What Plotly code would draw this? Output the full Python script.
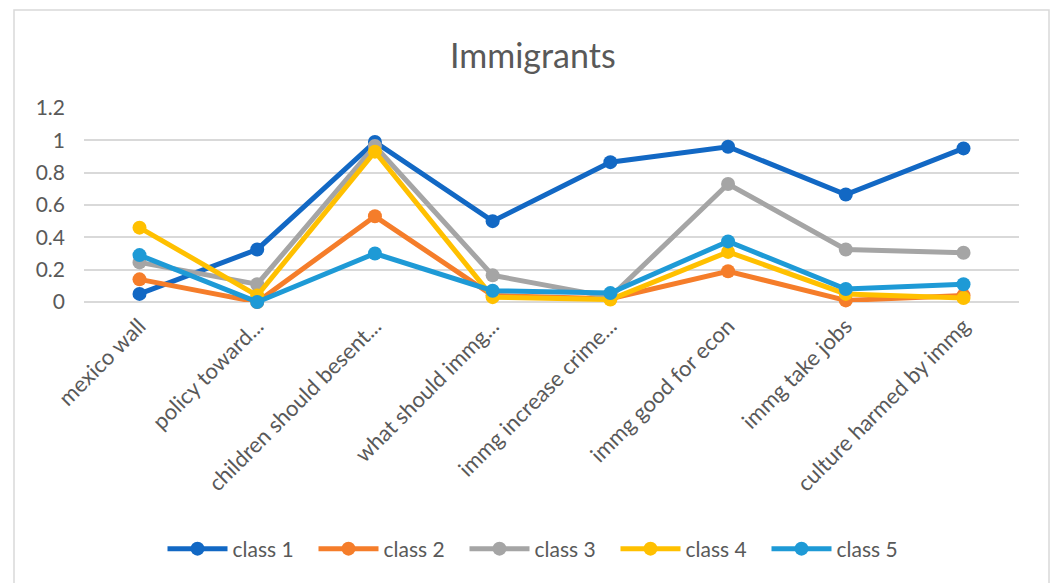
import plotly.graph_objects as go

categories = ["mexico wall", "policy toward...", "children should besent...",
              "what should immg...", "immg increase crime...", "immg good for econ",
              "immg take jobs", "culture harmed by immg"]

class_1 = [0.05, 0.325, 0.99, 0.50, 0.865, 0.96, 0.665, 0.95]
class_2 = [0.14, 0.00, 0.53, 0.04, 0.02, 0.19, 0.01, 0.04]
class_3 = [0.245, 0.11, 0.965, 0.165, 0.03, 0.73, 0.325, 0.305]
class_4 = [0.46, 0.04, 0.93, 0.03, 0.015, 0.31, 0.05, 0.025]
class_5 = [0.29, 0.00, 0.30, 0.07, 0.055, 0.375, 0.08, 0.11]

series_names = ["class 1", "class 2", "class 3", "class 4", "class 5"]
series_values = [class_1, class_2, class_3, class_4, class_5]
colors = ["#1268C4", "#F57D2A", "#A5A5A5", "#FFC000", "#1E9AD6"]

FONT = "Lato"
TXT = "#595959"

fig = go.Figure()
for name, vals, c in zip(series_names, series_values, colors):
    fig.add_trace(go.Scatter(
        x=categories, y=vals, name=name, mode="lines+markers",
        line=dict(color=c, width=5),
        marker=dict(color=c, size=14),
        cliponaxis=False,
    ))

L, R, T, B = 84, 34, 108, 281
W, H = 1053, 583
pw = W - L - R
ph = H - T - B

def px_x(p):
    return (p - L) / pw

def px_y(p):
    return (H - B - p) / ph

fig.update_layout(
    width=W, height=H,
    margin=dict(l=L, r=R, t=T, b=B, autoexpand=False),
    paper_bgcolor="white", plot_bgcolor="white",
    font=dict(family=FONT, color=TXT, size=18),
    title=dict(text="Immigrants", x=0.506, xanchor="center", y=1 - 56 / H, yanchor="middle",
               font=dict(family=FONT, size=34, color=TXT)),
    xaxis=dict(showgrid=False, showline=False, zeroline=False, tickangle=-45,
               tickfont=dict(family=FONT, size=22, color=TXT), ticks="",
               ticklabelstandoff=6),
    yaxis=dict(range=[0, 1.2], dtick=0.2, showgrid=True, gridcolor="#D9D9D9", gridwidth=1.5,
               zeroline=True, zerolinecolor="#D9D9D9", zerolinewidth=1.5, showline=False,
               tickfont=dict(family=FONT, size=21, color=TXT), ticklabelstandoff=18),
    legend=dict(orientation="h", x=px_x(540), xanchor="center", y=px_y(549), yanchor="middle",
                font=dict(family=FONT, size=21, color=TXT), itemwidth=60,
                entrywidth=76, entrywidthmode="pixels",
                bgcolor="rgba(0,0,0,0)"),
    shapes=[dict(type="rect", xref="paper", yref="paper",
                 x0=px_x(14), x1=px_x(1049), y0=px_y(600), y1=px_y(10),
                 line=dict(color="#D9D9D9", width=1.5), fillcolor="rgba(0,0,0,0)", layer="below")],
)

fig.write_html("out.html")
